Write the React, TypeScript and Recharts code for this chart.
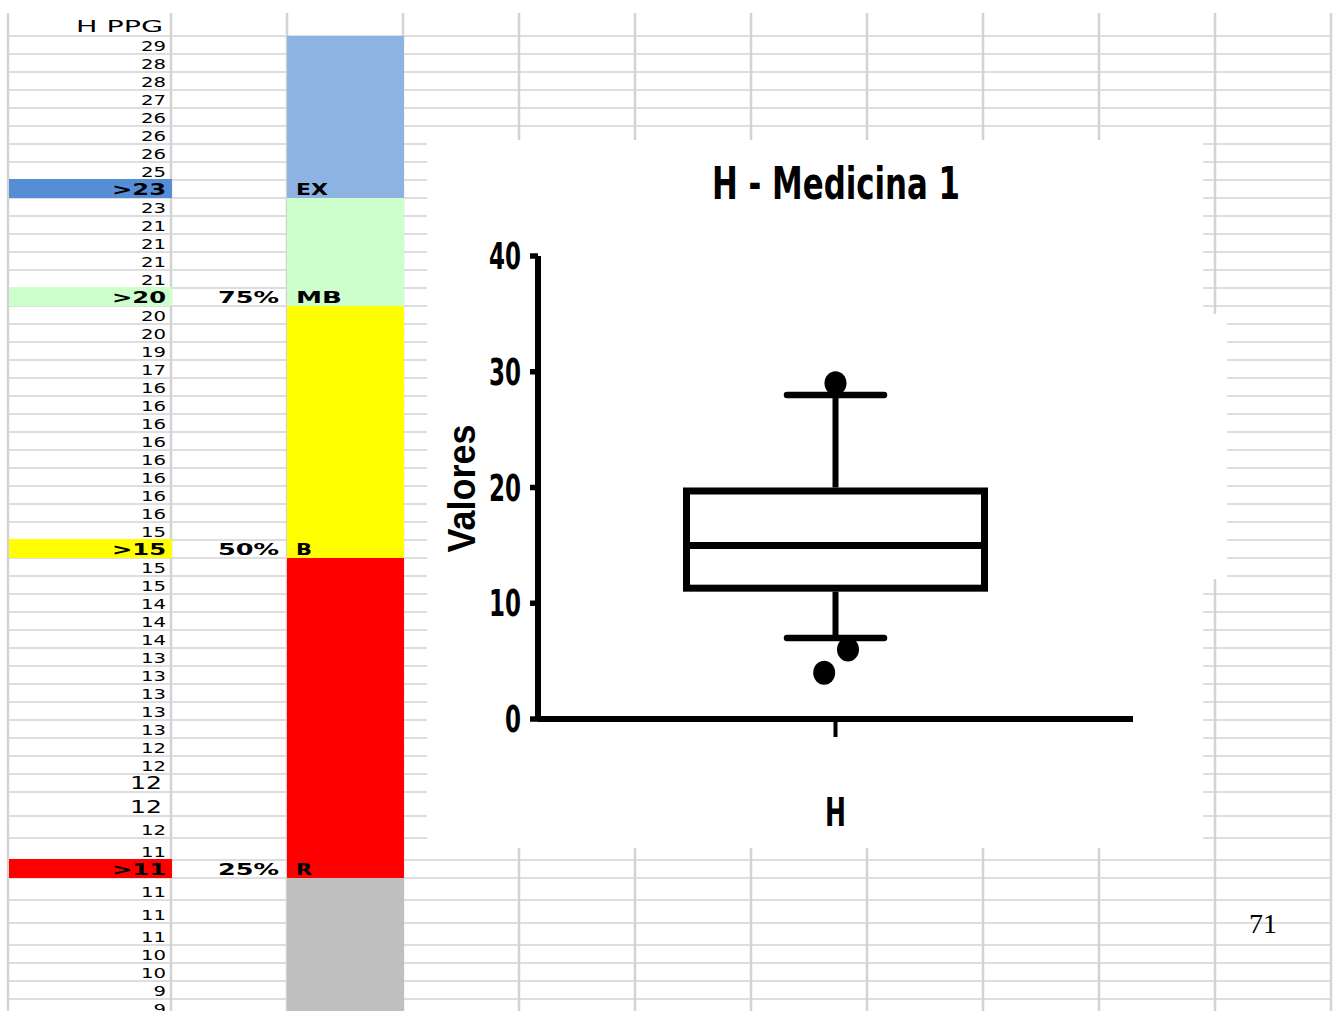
import React from 'react';
import { ComposedChart, Bar, Scatter, XAxis, YAxis, Label } from 'recharts';

// box plot "H - Medicina 1"
const categories = ['H'];
const lowerWhisker = [7];
const firstQuartile = [11];
const medianValues = [15];
const thirdQuartile = [20];
const upperWhisker = [28];
const outlierValues = [29, 6, 4];
const outlierJitter = [0, 0.042, -0.038];
const yTicks = [0, 10, 20, 30, 40];

// spreadsheet column "H PPG"
const hppgValues = [
  '29', '28', '28', '27', '26', '26', '26', '25', '>23',
  '23', '21', '21', '21', '21', '>20',
  '20', '20', '19', '17', '16', '16', '16', '16', '16', '16', '16', '16', '15', '>15',
  '15', '15', '14', '14', '14', '13', '13', '13', '13', '13', '12', '12', '12', '12', '12', '11', '>11',
  '11', '11', '11', '10', '10', '9', '9',
];
const thresholdPercents = ['', '75%', '50%', '25%'];
const thresholdClasses = ['EX', 'MB', 'B', 'R'];

const bandColors = ['#8db3e2', '#ccffcc', '#ffff00', '#ff0000'];
const highlightColors = ['#558ed5', '#ccffcc', '#ffff00', '#ff0000'];
const tailColor = '#bfbfbf';

const NARROW = "'Liberation Sans Narrow', 'Arial Narrow', 'DejaVu Sans Condensed', 'Liberation Sans', sans-serif";
const SHEET_FONT = "'DejaVu Sans', Verdana, sans-serif";
const GRID = '#d3d3d3';

const colLines = [8, 171, 287, 403, 519, 635, 751, 867, 983, 1099, 1215, 1331];
const tallRows: Record<number, number> = { 42: 24, 43: 22, 44: 22, 46: 22, 47: 23, 48: 22 };
const largeFontRows = [41, 42];

const boxData = categories.map((name, i) => ({
  name,
  box: [firstQuartile[i], thirdQuartile[i]],
  min: lowerWhisker[i],
  q1: firstQuartile[i],
  median: medianValues[i],
  q3: thirdQuartile[i],
  max: upperWhisker[i],
}));

const outlierData = outlierValues.map((v, i) => ({ pos: 1 + outlierJitter[i], value: v }));

const classWidth = (s: string) => s.split('').reduce((a, c) => a + (c === 'M' ? 30 : 16), 0);

const Sheet = () => {
  const tops: number[] = [];
  let acc = 36;
  hppgValues.forEach((_, i) => {
    tops.push(acc);
    acc += tallRows[i] ?? 18;
  });
  const heights = hppgValues.map((_, i) => tallRows[i] ?? 18);
  const thresholdIdx = hppgValues.map((v, i) => (v.startsWith('>') ? i : -1)).filter((i) => i >= 0);

  const bands = thresholdIdx.map((ti, k) => {
    const start = k === 0 ? 36 : tops[thresholdIdx[k - 1]] + heights[thresholdIdx[k - 1]];
    const end = tops[ti] + heights[ti];
    return { start, end, color: bandColors[k] };
  });
  const lastIdx = thresholdIdx[thresholdIdx.length - 1];
  const tailStart = tops[lastIdx] + heights[lastIdx];

  return (
    <svg width={1334} height={1011} style={{ position: 'absolute', left: 0, top: 0 }}>
      {/* row lines */}
      {tops.map((t, i) => (
        <line key={'h' + i} x1={8} x2={1331} y1={t} y2={t} stroke={GRID} strokeWidth={1.5} />
      ))}
      <line x1={8} x2={1331} y1={acc} y2={acc} stroke={GRID} strokeWidth={1.5} />
      {colLines.map((x) => (
        <line key={'v' + x} x1={x} x2={x} y1={13} y2={1011} stroke={GRID} strokeWidth={2.5} />
      ))}

      {/* class bands */}
      {bands.map((b, k) => (
        <rect key={'b' + k} x={287} y={b.start} width={117} height={b.end - b.start} fill={b.color} />
      ))}
      <rect x={287} y={tailStart} width={117} height={1011 - tailStart} fill={tailColor} />

      {/* threshold highlights */}
      {thresholdIdx.map((ti, k) => (
        <rect key={'t' + k} x={9} y={tops[ti] - 1} width={163} height={heights[ti] + 1} fill={highlightColors[k]} />
      ))}

      <text x={163} y={32} textAnchor="end" fontFamily={SHEET_FONT} fontSize={15} textLength={87} lengthAdjust="spacingAndGlyphs">
        H PPG
      </text>

      {hppgValues.map((v, i) => {
        const base = tops[i] + heights[i] - 3;
        if (v.startsWith('>')) {
          const k = thresholdIdx.indexOf(i);
          return (
            <g key={'r' + i} fontFamily={SHEET_FONT} fontWeight="bold" fontSize={15}>
              <text x={166} y={base} textAnchor="end" textLength={54} lengthAdjust="spacingAndGlyphs">{v}</text>
              {thresholdPercents[k] && (
                <text x={279} y={base} textAnchor="end" textLength={61} lengthAdjust="spacingAndGlyphs">{thresholdPercents[k]}</text>
              )}
              <text x={296} y={base} textLength={classWidth(thresholdClasses[k])} lengthAdjust="spacingAndGlyphs">
                {thresholdClasses[k]}
              </text>
            </g>
          );
        }
        const large = largeFontRows.includes(i);
        return (
          <text
            key={'r' + i}
            x={large ? 162 : 166}
            y={base}
            textAnchor="end"
            fontFamily={SHEET_FONT}
            fontSize={large ? 17 : 14}
            textLength={v.length * (large ? 16 : 12.5)}
            lengthAdjust="spacingAndGlyphs"
          >
            {v}
          </text>
        );
      })}

      {/* chart paper */}
      <rect x={427} y={140} width={776} height={708} fill="#fff" />
      <rect x={1203} y={314} width={24} height={265} fill="#fff" />

      <text
        x={836}
        y={199}
        textAnchor="middle"
        fontFamily={NARROW}
        fontWeight="bold"
        fontSize={45}
        textLength={248}
        lengthAdjust="spacingAndGlyphs"
      >
        H - Medicina 1
      </text>

      <text x={1249} y={933} fontFamily="'Liberation Serif', 'DejaVu Serif', serif" fontSize={28}>
        71
      </text>
    </svg>
  );
};

const BoxShape = (props: any) => {
  const { x, y, width, height, payload } = props;
  if (!payload || !height) return null;
  const unit = height / (payload.q3 - payload.q1);
  const toY = (v: number) => y + (payload.q3 - v) * unit;
  const cx = x + width / 2;
  const cap = 48.5;
  const sw = 7;
  return (
    <g>
      <line x1={cx} x2={cx} y1={toY(payload.max)} y2={y} stroke="#000" strokeWidth={6} />
      <line x1={cx} x2={cx} y1={y + height} y2={toY(payload.min)} stroke="#000" strokeWidth={6} />
      <line x1={cx - cap} x2={cx + cap} y1={toY(payload.max)} y2={toY(payload.max)} stroke="#000" strokeWidth={6.5} strokeLinecap="round" />
      <line x1={cx - cap} x2={cx + cap} y1={toY(payload.min)} y2={toY(payload.min)} stroke="#000" strokeWidth={6.5} strokeLinecap="round" />
      <rect x={x + sw / 2} y={y + sw / 2} width={width - sw} height={height - sw} fill="#fff" stroke="#000" strokeWidth={sw} />
      <line x1={x} x2={x + width} y1={toY(payload.median)} y2={toY(payload.median)} stroke="#000" strokeWidth={7} />
    </g>
  );
};

const Outlier = (props: any) => <ellipse cx={props.cx} cy={props.cy} rx={11} ry={12} fill="#000" />;

const YTick = ({ x, y, payload }: any) => (
  <text
    x={x}
    y={y}
    dy={13}
    textAnchor="end"
    fontFamily={NARROW}
    fontWeight="bold"
    fontSize={37}
    fill="#000"
    textLength={String(payload.value).length * 16}
    lengthAdjust="spacingAndGlyphs"
  >
    {payload.value}
  </text>
);

const XTick = ({ x, y, payload }: any) => (
  <text
    x={x}
    y={y}
    dy={87}
    textAnchor="middle"
    fontFamily={NARROW}
    fontWeight="bold"
    fontSize={39}
    fill="#000"
    textLength={21}
    lengthAdjust="spacingAndGlyphs"
  >
    {payload.value}
  </text>
);

const ValoresLabel = (props: any) => {
  const vb = props.viewBox || { x: 0, y: 116, width: 111, height: 463 };
  const lx = vb.x + 48;
  const ly = vb.y + vb.height / 2 + 1;
  return (
    <text
      x={lx}
      y={ly}
      transform={`rotate(-90, ${lx}, ${ly})`}
      textAnchor="middle"
      fontFamily="'Liberation Sans', Arial, sans-serif"
      fontWeight="bold"
      fontSize={38}
      fill="#000"
      textLength={128}
      lengthAdjust="spacingAndGlyphs"
    >
      Valores
    </text>
  );
};

export default function App() {
  return (
    <div style={{ position: 'absolute', left: 0, top: 0, width: 1334, height: 1011, background: '#fff', overflow: 'hidden' }}>
      <Sheet />
      <div style={{ position: 'absolute', left: 427, top: 140 }}>
        <ComposedChart width={776} height={710} data={boxData} margin={{ top: 116, right: 70, bottom: 21, left: 0 }}>
          <XAxis
            xAxisId="cat"
            dataKey="name"
            type="category"
            height={110}
            axisLine={{ stroke: '#000', strokeWidth: 6 }}
            tickLine={{ stroke: '#000', strokeWidth: 4 }}
            tickSize={18}
            tick={<XTick />}
          />
          <XAxis xAxisId="num" dataKey="pos" type="number" domain={[0, 2]} hide />
          <YAxis
            type="number"
            domain={[0, 40]}
            ticks={yTicks}
            width={111}
            axisLine={{ stroke: '#000', strokeWidth: 6 }}
            tickLine={{ stroke: '#000', strokeWidth: 5.5 }}
            tickSize={8}
            tickMargin={9}
            tick={<YTick />}
          >
            <Label content={<ValoresLabel />} />
          </YAxis>
          <Bar xAxisId="cat" dataKey="box" barSize={305} shape={<BoxShape />} isAnimationActive={false} />
          <Scatter xAxisId="num" data={outlierData} dataKey="value" shape={<Outlier />} isAnimationActive={false} />
        </ComposedChart>
      </div>
    </div>
  );
}
